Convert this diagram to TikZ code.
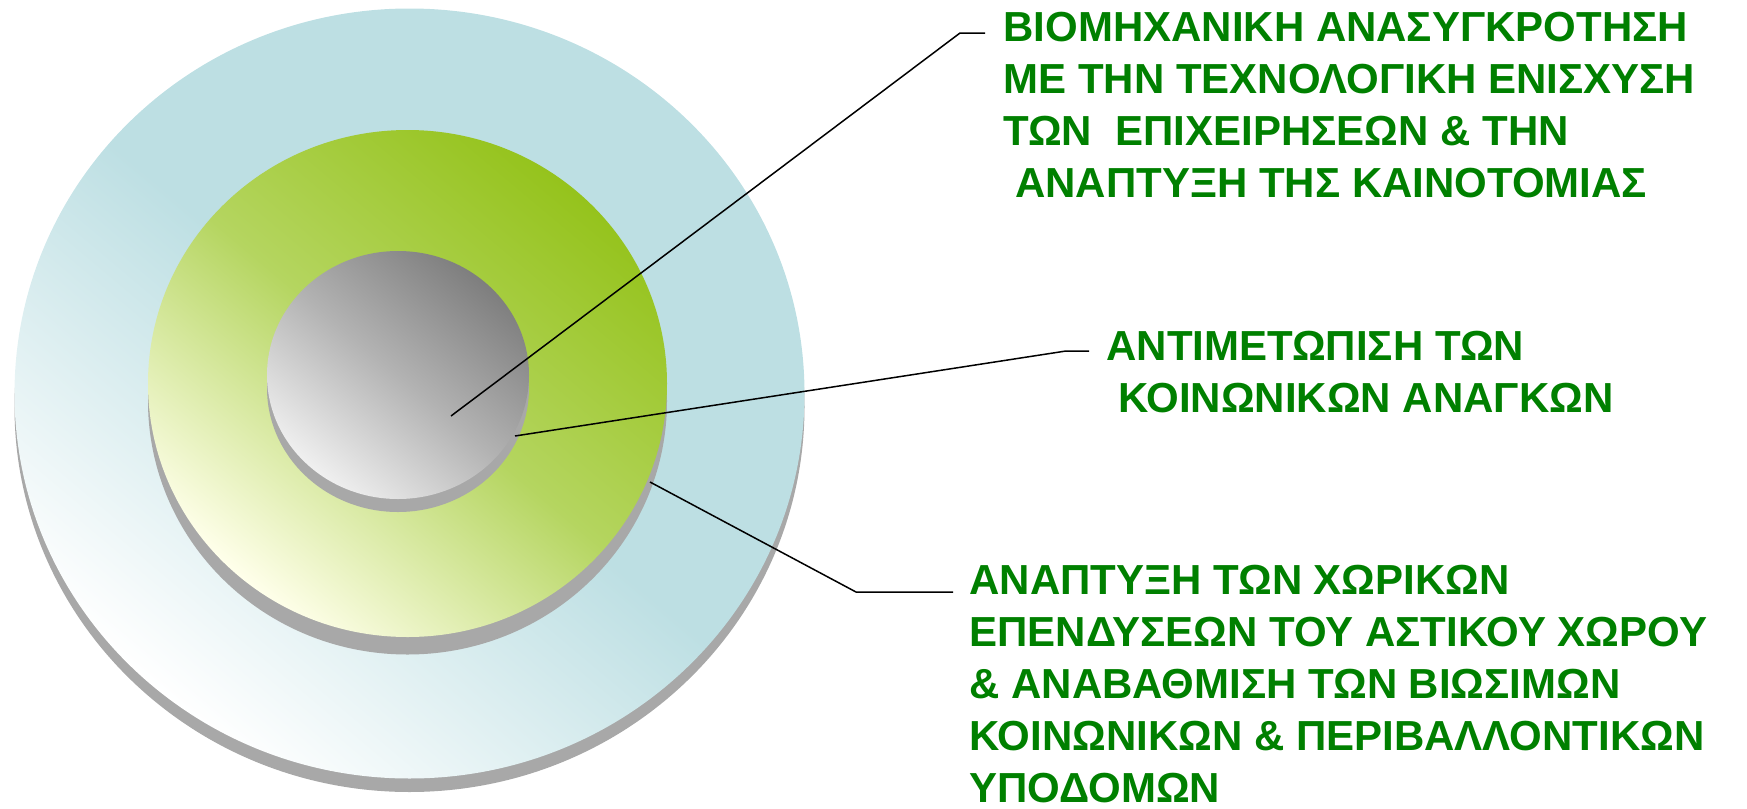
\documentclass[tikz,border=0pt]{standalone}
\usepackage{fontspec}
\setmainfont{Liberation Sans}
\definecolor{outerblue}{HTML}{BDDFE3}
\definecolor{ringgreen}{HTML}{95C31C}
\definecolor{coregray}{HTML}{7E7E7E}
\definecolor{rimgray}{HTML}{A8A8A8}
\definecolor{labelgreen}{HTML}{008000}
\begin{document}
\begin{tikzpicture}[x=0.5pt,y=-0.5pt,
    goal/.style={text=labelgreen,font=\fontsize{21pt}{26pt}\selectfont\bfseries,
      align=left,anchor=base west,inner sep=0pt},
    leader/.style={draw=black,line width=0.75pt}]
  \useasboundingbox (0,0) rectangle (1747,809);
  % discs, from outside in
  \fill[rimgray] (409.5,407) ellipse (395 and 385);
  \shade[top color=outerblue,bottom color=white,middle color=outerblue,shading angle=-40]
    (409.5,393.5) ellipse (395 and 385);
  \fill[rimgray] (407.5,401) ellipse (259.5 and 253.5);
  \shade[top color=ringgreen,bottom color=white!92!yellow,middle color=ringgreen!70!white,shading angle=-40]
    (407.5,383.5) ellipse (259.5 and 253.5);
  \fill[rimgray] (398,388) ellipse (131 and 124);
  \shade[top color=coregray,bottom color=white!94!black,middle color=black!30,shading angle=-40]
    (398,375) ellipse (131 and 124);
  % labels (placed by the baseline of the last line)
  \node[goal] (industry) at (1003,197) {ΒΙΟΜΗΧΑΝΙΚΗ ΑΝΑΣΥΓΚΡΟΤΗΣΗ\\
    ΜΕ ΤΗΝ ΤΕΧΝΟΛΟΓΙΚΗ ΕΝΙΣΧΥΣΗ\\
    ΤΩΝ\ \ ΕΠΙΧΕΙΡΗΣΕΩΝ \& ΤΗΝ\\
    \hspace*{.28em}ΑΝΑΠΤΥΞΗ ΤΗΣ ΚΑΙΝΟΤΟΜΙΑΣ};
  \node[goal] (social) at (1106,412) {ΑΝΤΙΜΕΤΩΠΙΣΗ ΤΩΝ\\
    \hspace*{.28em}ΚΟΙΝΩΝΙΚΩΝ ΑΝΑΓΚΩΝ};
  \node[goal] (urban) at (969,802) {ΑΝΑΠΤΥΞΗ ΤΩΝ ΧΩΡΙΚΩΝ\\
    ΕΠΕΝΔΥΣΕΩΝ ΤΟΥ ΑΣΤΙΚΟΥ ΧΩΡΟΥ\\
    \& ΑΝΑΒΑΘΜΙΣΗ ΤΩΝ ΒΙΩΣΙΜΩΝ\\
    ΚΟΙΝΩΝΙΚΩΝ \& ΠΕΡΙΒΑΛΛΟΝΤΙΚΩΝ\\
    ΥΠΟΔΟΜΩΝ};
  % leader lines
  \coordinate (core) at (451,416);
  \coordinate (coreedge) at (515,436);
  \coordinate (ringedge) at (650,482);
  \coordinate (bend1) at (960,33);
  \coordinate (tail1) at (985,33);
  \coordinate (bend2) at (1066,351);
  \coordinate (tail2) at (1089,351);
  \coordinate (bend3) at (856,592);
  \coordinate (tail3) at (953,592);
  \draw[leader] (core) -- (bend1) -- (tail1);
  \draw[leader] (coreedge) -- (bend2) -- (tail2);
  \draw[leader] (ringedge) -- (bend3) -- (tail3);
\end{tikzpicture}
\end{document}
